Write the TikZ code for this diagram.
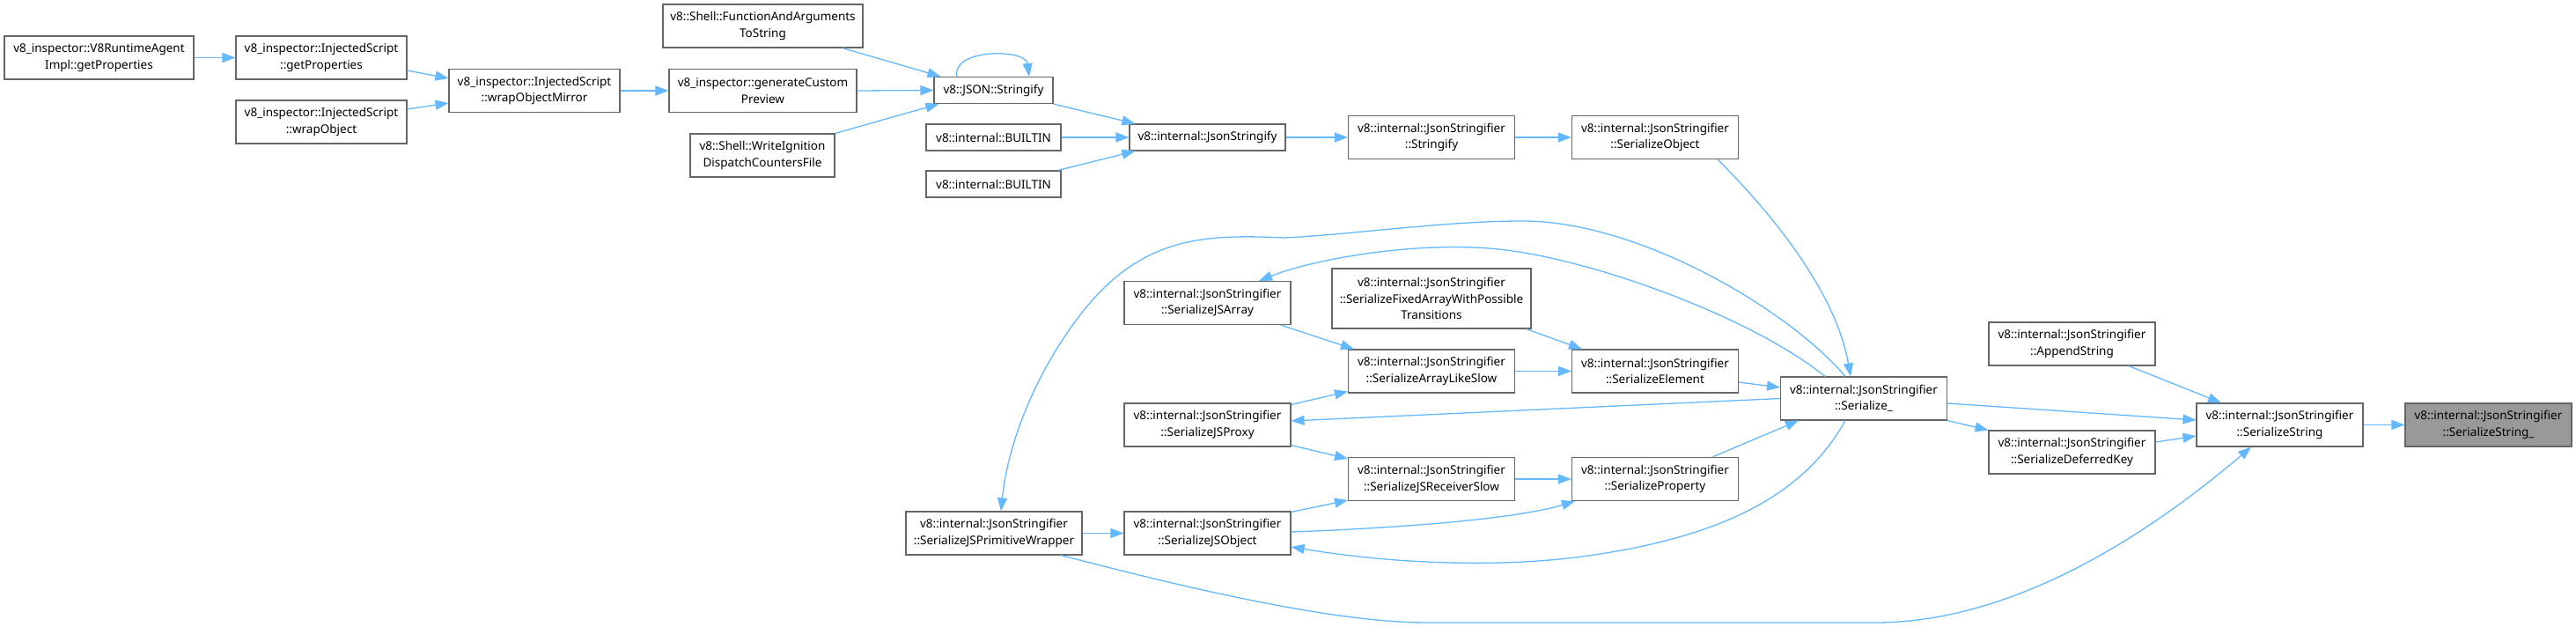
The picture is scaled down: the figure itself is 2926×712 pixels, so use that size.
\documentclass[tikz,border=0pt]{standalone}
\usepackage{fontspec}
\setmainfont{Noto Sans}
\usetikzlibrary{arrows.meta}
\definecolor{edgeblue}{HTML}{63B8FF}
\definecolor{boxline}{HTML}{666666}
\definecolor{hilite}{HTML}{999999}
\begin{document}
\begin{tikzpicture}[x=1pt,y=-1pt,
  fn/.style={draw=boxline, line width=1.1pt, fill=white, inner sep=0pt, align=center,
    font=\fontsize{13.5}{18.5}\selectfont, minimum height=49pt, minimum width=189pt},
  one/.style={minimum height=30pt},
  three/.style={minimum height=68pt},
  hl/.style={fill=hilite},
  call/.style={draw=edgeblue, line width=1.3pt, -{Triangle[length=15pt,width=11pt]}}]
\useasboundingbox (0,0) rectangle (2926,712);
% column 1-4
\node[fn, minimum width=215pt] (A) at (112.5,65.5) {v8\_inspector::V8RuntimeAgent\\Impl::getProperties};
\node[fn, minimum width=194pt] (B) at (365,65.5) {v8\_inspector::InjectedScript\\::getProperties};
\node[fn, minimum width=194pt] (C) at (365,138.5) {v8\_inspector::InjectedScript\\::wrapObject};
\node[fn, minimum width=194pt] (D) at (607,103) {v8\_inspector::InjectedScript\\::wrapObjectMirror};
\node[fn, minimum width=213pt] (E) at (866.5,103) {v8\_inspector::generateCustom\\Preview};
\node[fn, minimum width=227pt] (F) at (866.5,29.5) {v8::Shell::FunctionAndArguments\\ToString};
\node[fn, minimum width=164pt] (G) at (866,176.5) {v8::Shell::WriteIgnition\\DispatchCountersFile};
% column 5
\node[fn, one, minimum width=135pt] (H) at (1128.5,102.5) {v8::JSON::Stringify};
\node[fn, one, minimum width=153pt] (I) at (1128.5,156) {v8::internal::BUILTIN};
\node[fn, one, minimum width=153pt] (J) at (1128.5,209) {v8::internal::BUILTIN};
\node[fn, minimum width=200pt] (U) at (1129,605.5) {v8::internal::JsonStringifier\\::SerializeJSPrimitiveWrapper};
% column 6
\node[fn, one, minimum width=177pt] (K) at (1371.5,156) {v8::internal::JsonStringify};
\node[fn] (N) at (1371.5,344) {v8::internal::JsonStringifier\\::SerializeJSArray};
\node[fn] (R) at (1371.5,482.5) {v8::internal::JsonStringifier\\::SerializeJSProxy};
\node[fn] (V) at (1371.5,605.5) {v8::internal::JsonStringifier\\::SerializeJSObject};
% column 7
\node[fn] (L) at (1626,156) {v8::internal::JsonStringifier\\::Stringify};
\node[fn, three, minimum width=226pt] (O) at (1626,339) {v8::internal::JsonStringifier\\::SerializeFixedArrayWithPossible\\Transitions};
\node[fn] (P) at (1626,421.5) {v8::internal::JsonStringifier\\::SerializeArrayLikeSlow};
\node[fn] (S) at (1626,544) {v8::internal::JsonStringifier\\::SerializeJSReceiverSlow};
% column 8
\node[fn] (M) at (1880,156) {v8::internal::JsonStringifier\\::SerializeObject};
\node[fn] (Q) at (1880,421.5) {v8::internal::JsonStringifier\\::SerializeElement};
\node[fn] (T) at (1880,544) {v8::internal::JsonStringifier\\::SerializeProperty};
% columns 9-12
\node[fn] (W) at (2117,452.5) {v8::internal::JsonStringifier\\::Serialize\_};
\node[fn] (X) at (2353.5,390.5) {v8::internal::JsonStringifier\\::AppendString};
\node[fn] (Y) at (2353.5,513.5) {v8::internal::JsonStringifier\\::SerializeDeferredKey};
\node[fn] (Z) at (2589.5,482.5) {v8::internal::JsonStringifier\\::SerializeString};
\node[fn, hl] (ZZ) at (2826.5,482.5) {v8::internal::JsonStringifier\\::SerializeString\_};
% edges
\draw[call] (A.east) -- (B.west);
\draw[call] ([shift={(0,14.5)}]B.east) -- ([shift={(0,-14)}]D.west);
\draw[call] ([shift={(0,-14.5)}]C.east) -- ([shift={(0,14)}]D.west);
\draw[call] (D.east) -- (E.west);
\draw[call] (E.east) -- (H.west);
\draw[call] ([shift={(90.5,0)}]F.south) -- ([shift={(8,0)}]H.north west);
\draw[call] (G.north east) -- ([shift={(6,0)}]H.south west);
\draw[call] ([shift={(-41.5,0)}]H.north) .. controls (1080,55) and (1165,55) .. ([shift={(40.5,0)}]H.north);
\draw[call] (H.south east) -- ([shift={(7,0)}]K.north west);
\draw[call] (I.east) -- (K.west);
\draw[call] ([shift={(-4,0)}]J.north east) -- ([shift={(7,0)}]K.south west);
\draw[call] (K.east) -- (L.west);
\draw[call] (L.east) -- (M.west);
\draw[call] ([shift={(-24,0)}]M.south east) .. controls (2010,240) and (2085,330) .. ([shift={(-15,0)}]W.north);
\draw[call] ([shift={(-44,0)}]W.north) .. controls (1990,360) and (1800,290) .. (1691,282)
  .. controls (1600,275) and (1490,295) .. ([shift={(58.5,0)}]N.north);
\draw[call] ([shift={(-21,0)}]W.north) .. controls (2030,350) and (1860,251) .. (1730,251)
  .. controls (1640,251) and (1540,266) .. (1459,270)
  .. controls (1370,266) and (1300,268) .. (1233,350)
  .. controls (1180,415) and (1145,500) .. ([shift={(8,0)}]U.north);
\draw[call] ([shift={(-12,0)}]N.south east) -- ([shift={(7,0)}]P.north west);
\draw[call] ([shift={(-6,0)}]O.south east) -- ([shift={(12,0)}]Q.north west);
\draw[call] (P.east) -- (Q.west);
\draw[call] ([shift={(0,12.5)}]Q.east) -- ([shift={(0,-12.5)}]W.west);
\draw[call] ([shift={(0,2)}]R.north east) -- ([shift={(0,-2)}]P.south west);
\draw[call] (W.west) -- ([shift={(0,-4.5)}]R.east);
\draw[call] ([shift={(0,-2)}]R.south east) -- ([shift={(0,2)}]S.north west);
\draw[call] (S.east) -- (T.west);
\draw[call] ([shift={(-30,0)}]T.north east) -- ([shift={(-74,0)}]W.south);
\draw[call] ([shift={(0,1)}]V.north east) -- ([shift={(0,-1)}]S.south west);
\draw[call] ([shift={(0,-1.5)}]V.east) .. controls (1580,600) and (1720,590) .. ([shift={(4,0)}]T.south west);
\draw[call] ([shift={(-21,0)}]W.south) .. controls (2050,560) and (1960,610) .. (1797,632)
  .. controls (1700,645) and (1580,640) .. ([shift={(0,15.5)}]V.east);
\draw[call] (U.east) -- (V.west);
\draw[call] ([shift={(76,0)}]U.south) .. controls (1300,655) and (1500,707) .. (1620,707)
  -- (2130,707) .. controls (2300,707) and (2460,590) .. ([shift={(-32.5,0)}]Z.south);
\draw[call] ([shift={(0,5.5)}]W.east) -- ([shift={(0,-5.5)}]Z.west);
\draw[call] (W.south east) -- (Y.north west);
\draw[call] ([shift={(64.5,0)}]X.south) -- ([shift={(-66.5,0)}]Z.north);
\draw[call] ([shift={(0,-11.5)}]Y.east) -- ([shift={(0,12.5)}]Z.west);
\draw[call] (Z.east) -- (ZZ.west);
\end{tikzpicture}
\end{document}
